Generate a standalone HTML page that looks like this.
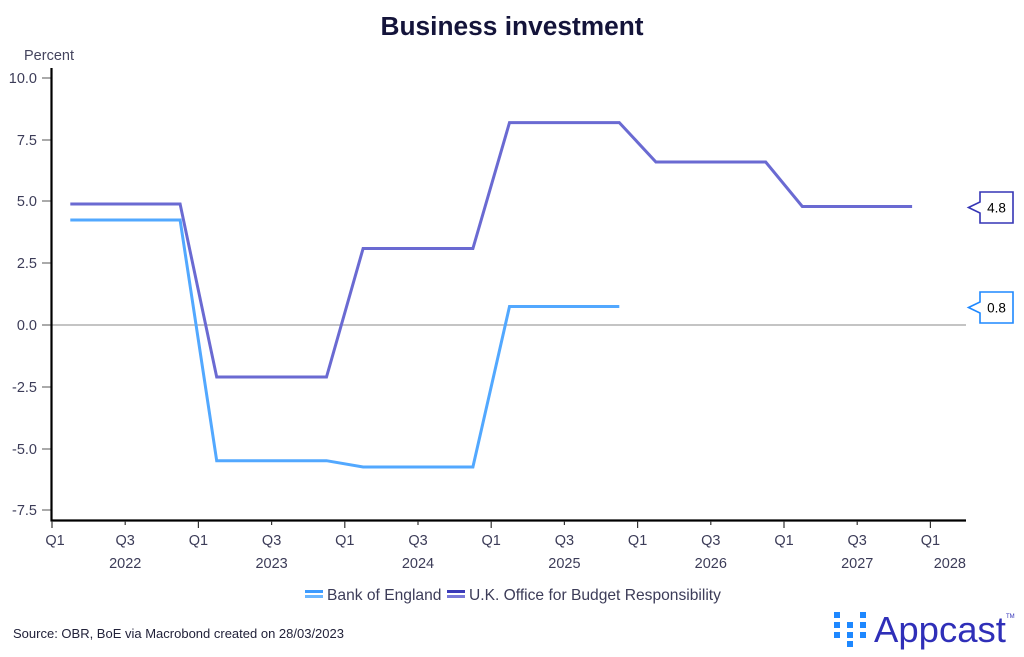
<!DOCTYPE html>
<html><head><meta charset="utf-8"><style>
html,body{margin:0;padding:0;background:#fff;width:1024px;height:657px;overflow:hidden}
svg{display:block;font-family:"Liberation Sans",sans-serif}
</style></head><body>
<svg width="1024" height="657" viewBox="0 0 1024 657" xmlns="http://www.w3.org/2000/svg">
<rect width="1024" height="657" fill="#fff"/>
<text x="512" y="35" text-anchor="middle" font-size="26.3" font-weight="bold" fill="#14143a">Business investment</text>
<text x="24" y="60" font-size="14.5" fill="#44445e">Percent</text>
<!-- y ticks -->
<g font-size="14.5" fill="#3c3c58" text-anchor="end">
<text x="37" y="83">10.0</text>
<text x="37" y="145">7.5</text>
<text x="37" y="206">5.0</text>
<text x="37" y="268">2.5</text>
<text x="37" y="330">0.0</text>
<text x="37" y="392">-2.5</text>
<text x="37" y="454">-5.0</text>
<text x="37" y="515">-7.5</text>
</g>
<g stroke="#555" stroke-width="1">
<line x1="42" y1="78" x2="51" y2="78"/>
<line x1="42" y1="140" x2="51" y2="140"/>
<line x1="42" y1="201" x2="51" y2="201"/>
<line x1="42" y1="263" x2="51" y2="263"/>
<line x1="42" y1="325" x2="51" y2="325"/>
<line x1="42" y1="387" x2="51" y2="387"/>
<line x1="42" y1="449" x2="51" y2="449"/>
<line x1="42" y1="510" x2="51" y2="510"/>
</g>
<!-- zero line -->
<line x1="52" y1="325" x2="966" y2="325" stroke="#a0a0a0" stroke-width="1.2"/>
<!-- axes -->
<line x1="51.5" y1="68" x2="51.5" y2="521" stroke="#000" stroke-width="2.2"/>
<line x1="50.5" y1="520.5" x2="966" y2="520.5" stroke="#000" stroke-width="2.2"/>
<!-- x ticks -->
<g stroke="#333" stroke-width="1.2">
<line x1="52" y1="521" x2="52" y2="528"/>
<line x1="125.2" y1="521" x2="125.2" y2="525"/>
<line x1="198.4" y1="521" x2="198.4" y2="528"/>
<line x1="271.6" y1="521" x2="271.6" y2="525"/>
<line x1="344.8" y1="521" x2="344.8" y2="528"/>
<line x1="418" y1="521" x2="418" y2="525"/>
<line x1="491.2" y1="521" x2="491.2" y2="528"/>
<line x1="564.4" y1="521" x2="564.4" y2="525"/>
<line x1="637.6" y1="521" x2="637.6" y2="528"/>
<line x1="710.8" y1="521" x2="710.8" y2="525"/>
<line x1="784" y1="521" x2="784" y2="528"/>
<line x1="857.2" y1="521" x2="857.2" y2="525"/>
<line x1="930.4" y1="521" x2="930.4" y2="528"/>
</g>
<g font-size="14.5" fill="#3c3c58" text-anchor="middle">
<text x="55" y="545">Q1</text>
<text x="125.2" y="545">Q3</text>
<text x="198.4" y="545">Q1</text>
<text x="271.6" y="545">Q3</text>
<text x="344.8" y="545">Q1</text>
<text x="418" y="545">Q3</text>
<text x="491.2" y="545">Q1</text>
<text x="564.4" y="545">Q3</text>
<text x="637.6" y="545">Q1</text>
<text x="710.8" y="545">Q3</text>
<text x="784" y="545">Q1</text>
<text x="857.2" y="545">Q3</text>
<text x="930.4" y="545">Q1</text>
<text x="125.2" y="568">2022</text>
<text x="271.6" y="568">2023</text>
<text x="418" y="568">2024</text>
<text x="564.4" y="568">2025</text>
<text x="710.8" y="568">2026</text>
<text x="857.2" y="568">2027</text>
<text x="966" y="568" text-anchor="end">2028</text>
</g>
<!-- series -->
<polyline fill="none" stroke="#52a8ff" stroke-width="3" stroke-linejoin="miter" points="70.3,220 180.1,220 216.7,460.7 326.5,460.7 363.1,467 472.9,467 509.5,306.5 619.3,306.5"/>
<polyline fill="none" stroke="#6a6ad2" stroke-width="3" stroke-linejoin="miter" points="70.3,204 180.1,204 216.7,377 326.5,377 363.1,248.5 472.9,248.5 509.5,122.6 619.3,122.6 655.9,162 765.7,162 802.3,206.5 912.1,206.5"/>
<!-- value labels -->
<path d="M980,192 H1013 V223 H980 V213 L968.5,207.5 L980,202 Z" fill="#fff" stroke="#3535b5" stroke-width="1.6"/>
<text x="996.5" y="212.5" text-anchor="middle" font-size="13.5" fill="#000">4.8</text>
<path d="M980,292 H1013 V323 H980 V313 L968.5,307.5 L980,302 Z" fill="#fff" stroke="#1e88ff" stroke-width="1.6"/>
<text x="996.5" y="312.5" text-anchor="middle" font-size="13.5" fill="#000">0.8</text>
<!-- legend -->
<rect x="305" y="590" width="18" height="3" fill="#3d9bff"/>
<rect x="305" y="595" width="18" height="3" fill="#6bb6ff"/>
<text x="327" y="600" font-size="15.6" fill="#3c3c58">Bank of England</text>
<rect x="447" y="590" width="18" height="3" fill="#3a3ab8"/>
<rect x="447" y="595" width="18" height="3" fill="#7a7ad8"/>
<text x="469" y="600" font-size="15.6" fill="#3c3c58">U.K. Office for Budget Responsibility</text>
<!-- source -->
<text x="13" y="638" font-size="13" fill="#22223a">Source: OBR, BoE via Macrobond created on 28/03/2023</text>
<!-- logo -->
<g fill="#1e88ff">
<rect x="834" y="612" width="6" height="6"/>
<rect x="860" y="612" width="6" height="6"/>
<rect x="834" y="622" width="6" height="6"/>
<rect x="847" y="622" width="6" height="6"/>
<rect x="860" y="622" width="6" height="6"/>
<rect x="834" y="632" width="6" height="6"/>
<rect x="847" y="632" width="6" height="6"/>
<rect x="860" y="632" width="6" height="6"/>
<rect x="847" y="641" width="6" height="6"/>
</g>
<text x="874" y="642" font-size="36.5" fill="#2f2fb8">Appcast</text>
<text x="1006" y="618" font-size="6" fill="#2f2fb8">TM</text>
</svg>
</body></html>
